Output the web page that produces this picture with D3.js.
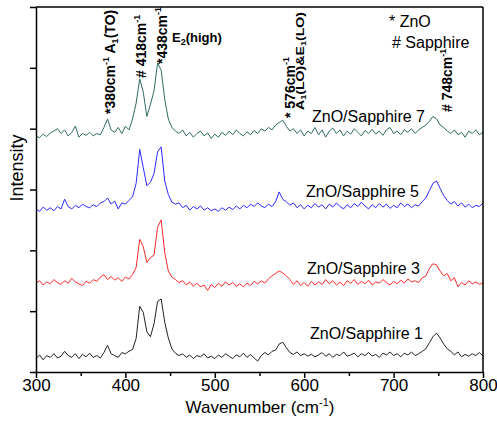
<!DOCTYPE html>
<html><head><meta charset="utf-8">
<script src="https://cdn.jsdelivr.net/npm/d3@7"></script>
<style>
body{margin:0;background:#fff}
svg{display:block}
text{font-family:"Liberation Sans",Arial,Helvetica,sans-serif;fill:#000}
</style>
</head><body>
<svg id="chart" width="497" height="421"></svg>
<script>
// ---- data (arbitrary intensity units, offset per spectrum) ----
const wavenumbers = d3.range(300, 801, 4);
const sapphire1 = [22,28,20,27,24,30,23,26,34,27,24,30,22,29,25,31,24,27,23,32,44,30,27,24,32,30,34,37,55,108,98,66,58,79,116,120,82,56,38,31,27,30,24,28,22,27,25,30,23,26,22,28,24,30,26,22,28,25,31,24,29,23,18,27,32,28,34,36,46,49,40,32,29,33,27,30,26,29,25,28,32,26,30,24,29,27,33,26,28,31,25,30,27,32,26,29,24,31,28,33,27,30,25,31,28,33,27,30,34,38,48,58,64,56,46,38,34,28,33,25,29,26,30,27,32,26];
const sapphire3 = [146,150,143,148,145,152,147,144,150,146,154,148,145,142,149,146,152,149,156,160,152,157,151,155,149,156,153,160,172,218,206,180,188,192,238,250,196,166,156,152,147,150,143,148,141,146,140,143,134,144,139,146,141,148,143,147,141,145,140,146,142,149,145,150,146,153,158,162,166,163,158,152,144,150,142,147,141,149,143,148,144,152,145,150,143,148,142,150,146,152,144,149,145,151,143,148,146,152,147,143,149,145,151,146,153,148,150,147,155,158,170,178,176,166,158,162,150,155,140,147,143,150,145,148,144,147];
const sapphire5 = [268,264,271,266,270,265,272,268,284,272,268,274,270,276,272,270,275,272,278,280,286,276,281,268,278,276,282,288,310,366,336,306,312,326,362,370,314,292,279,276,278,270,274,266,272,268,273,266,270,265,268,264,270,266,271,267,273,268,274,270,276,272,278,273,270,276,272,280,296,284,280,274,278,270,275,268,274,270,277,271,275,268,276,271,278,272,268,275,270,277,272,279,273,268,275,270,277,271,276,269,274,270,278,272,276,270,275,273,280,286,298,310,314,302,290,282,276,280,273,278,271,276,270,274,272,278];
const sapphire7 = [388,385,391,387,393,396,400,392,398,388,394,404,386,392,389,394,388,392,390,402,416,398,394,402,392,404,398,416,442,482,460,420,440,462,508,496,448,416,402,396,392,398,388,394,386,392,396,388,393,384,391,386,394,389,396,390,398,392,388,395,390,397,392,400,396,402,398,406,410,414,404,396,400,392,398,388,396,392,402,390,398,386,396,401,392,398,388,396,391,400,394,388,397,392,399,391,396,389,398,402,392,396,390,398,394,400,392,398,402,406,412,420,416,406,402,396,392,398,390,394,386,396,392,398,390,394];
const seriesNames = ["ZnO/Sapphire 1","ZnO/Sapphire 3","ZnO/Sapphire 5","ZnO/Sapphire 7"];
const seriesColors = ["#222222","#ff2a2a","#2a2aff","#2f6b63"];
const xTicks = [300,400,500,600,700,800];
const xMinorTicks = [350,450,550,650,750];
const yTicks = [0,100,200,300,400,500,600];

// ---- layout ----
const svg = d3.select("#chart");
const x = d3.scaleLinear().domain([300,800]).range([36,483]);
const y = d3.scaleLinear().domain([0,600]).range([372,7]);
const FONT = '"Liberation Sans",Arial,Helvetica,sans-serif';

// spectra
const allSeries = [sapphire1, sapphire3, sapphire5, sapphire7];
const line = d3.line().x((d,i)=>x(wavenumbers[i])).y(d=>y(d));
allSeries.forEach((s,k)=>{
  svg.append("path").datum(s).attr("d", line)
    .attr("fill","none").attr("stroke", seriesColors[k]).attr("stroke-width",1)
    .attr("stroke-linejoin","round");
});

// axes
const gx = svg.append("g").attr("transform","translate(0,372)")
  .call(d3.axisBottom(x).tickValues(xTicks).tickSize(6).tickSizeOuter(0).tickPadding(1).tickFormat(d3.format("d")));
gx.selectAll("text").attr("font-size",17).attr("font-family",FONT).attr("fill","#000");
const gxm = svg.append("g").attr("transform","translate(0,372)")
  .call(d3.axisBottom(x).tickValues(xMinorTicks).tickSize(4).tickFormat(""));
gxm.select(".domain").remove();
const gy = svg.append("g").attr("transform","translate(36,0)")
  .call(d3.axisLeft(y).tickValues(yTicks).tickSize(6).tickSizeOuter(0).tickFormat(""));
svg.selectAll(".domain, .tick line").attr("stroke","#000").attr("stroke-width",1.5);
// frame top / right
svg.append("line").attr("x1",x(300)).attr("x2",x(800)).attr("y1",y(600)).attr("y2",y(600)).attr("stroke","#000").attr("stroke-width",1.5);
svg.append("line").attr("x1",x(800)).attr("x2",x(800)).attr("y1",y(600)).attr("y2",y(0)).attr("stroke","#000").attr("stroke-width",1.5);

// axis titles
const xt = svg.append("text").attr("x",260).attr("y",413).attr("text-anchor","middle").attr("font-size",17);
xt.append("tspan").text("Wavenumber (cm");
xt.append("tspan").attr("font-size",11).attr("dy",-7).text("-1");
xt.append("tspan").attr("dy",7).text(")");
svg.append("text").attr("transform","translate(23,168) rotate(-90)").attr("text-anchor","middle")
  .attr("font-size",18).text("Intensity");

// series labels
const labelPos = [[310,339],[307,274],[306,197],[312,122]];
seriesNames.forEach((n,k)=>{
  svg.append("text").attr("x",labelPos[k][0]).attr("y",labelPos[k][1]).attr("font-size",16).text(n);
});

// legend text
svg.append("text").attr("x",389).attr("y",27).attr("font-size",16).text("* ZnO");
svg.append("text").attr("x",392).attr("y",48).attr("font-size",16).text("# Sapphire");

// peak annotations (rotated)
function vlabel(px, py, parts, size){
  const t = svg.append("text").attr("transform",`translate(${px},${py}) rotate(-90)`)
    .attr("font-size",size).attr("font-weight","bold");
  let shift = 0;
  parts.forEach(p=>{
    const sp = t.append("tspan").text(p.t);
    let target = p.sup ? -size*0.43 : p.sub ? size*0.22 : 0;
    if (p.sup || p.sub) sp.attr("font-size", size*0.65);
    sp.attr("dy", target - shift);
    shift = target;
  });
  return t;
}
vlabel(115,114,[{t:"*380cm"},{t:"-1",sup:true},{t:" A"},{t:"1",sub:true},{t:"(TO)"}],14);
vlabel(146,78,[{t:"# 418cm"},{t:"-1",sup:true}],14);
vlabel(167,64,[{t:"*438cm"},{t:"-1",sup:true}],14);
vlabel(295,118,[{t:"* 576cm"},{t:"-1",sup:true}],14);
const lo = vlabel(304,110,[{t:"A"},{t:"1",sub:true},{t:"(LO)&E"},{t:"1",sub:true},{t:"(LO)"}],10);
lo.attr("textLength",98).attr("lengthAdjust","spacingAndGlyphs");
vlabel(452,112,[{t:"# 748cm"},{t:"-1",sup:true}],14);

const e2 = svg.append("text").attr("x",172).attr("y",42).attr("font-size",13).attr("font-weight","bold");
e2.append("tspan").text("E");
e2.append("tspan").attr("font-size",9).attr("dy",3).text("2");
e2.append("tspan").attr("dy",-3).text("(high)");
</script>
</body></html>
